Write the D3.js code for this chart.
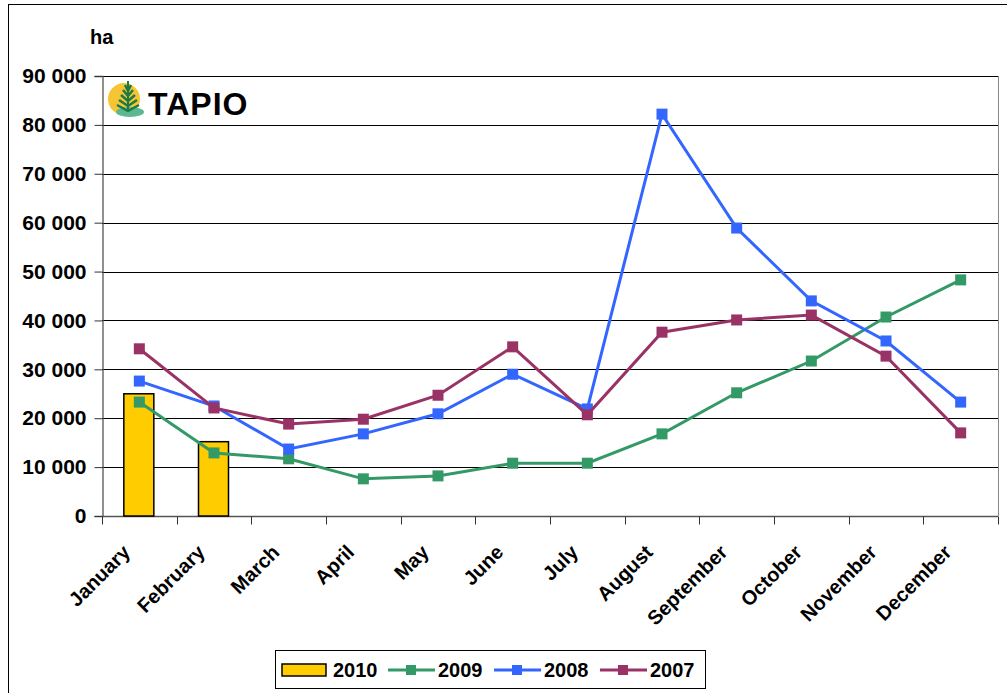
<!DOCTYPE html>
<html>
<head>
<meta charset="utf-8">
<script src="https://d3js.org/d3.v7.min.js"></script>
<style>
  body { margin: 0; background: #fff; }
  text { font-family: Arial, "Liberation Sans", sans-serif; }
</style>
</head>
<body>
<svg id="chart" width="1007" height="693"></svg>
<script>
// data (ha)
const months = ["January", "February", "March", "April", "May", "June", "July",
  "August", "September", "October", "November", "December"];
const values2010 = [25000, 15200];
const values2009 = [23300, 12900, 11700, 7600, 8200, 10800, 10800, 16800, 25200, 31700, 40700, 48300];
const values2008 = [27600, 22500, 13700, 16800, 20900, 29000, 21900, 82200, 58900, 44000, 35800, 23300];
const values2007 = [34200, 22100, 18800, 19800, 24700, 34600, 20700, 37600, 40100, 41100, 32700, 17000];
const yTicks = [0, 10000, 20000, 30000, 40000, 50000, 60000, 70000, 80000, 90000];

const lineSeries = [
  { name: "2009", values: values2009, color: "#339966" },
  { name: "2008", values: values2008, color: "#3366FF" },
  { name: "2007", values: values2007, color: "#993366" }
];

const svg = d3.select("#chart");
const plotLeft = 102, plotRight = 998, plotTop = 76, plotBottom = 516;

// outer frame
svg.append("rect")
  .attr("x", 8.5).attr("y", 4.5)
  .attr("width", 1010).attr("height", 700)
  .attr("fill", "none").attr("stroke", "#000");

const x = d3.scaleBand().domain(months).range([plotLeft, plotRight]);
const y = d3.scaleLinear().domain([0, 90000]).range([plotBottom, plotTop]);

const fmt = d => d3.format(",")(d).replace(/,/g, " ");

// grid lines
svg.append("g")
  .selectAll("line")
  .data(yTicks.slice(1))
  .join("line")
  .attr("x1", plotLeft).attr("x2", plotRight)
  .attr("y1", d => Math.round(y(d)) + 0.5)
  .attr("y2", d => Math.round(y(d)) + 0.5)
  .attr("stroke", "#000");

// right border of plot area
svg.append("line")
  .attr("x1", plotRight + 0.5).attr("x2", plotRight + 0.5)
  .attr("y1", plotTop).attr("y2", plotBottom)
  .attr("stroke", "#888");

// y axis
const yAxis = svg.append("g")
  .attr("transform", `translate(${plotLeft + 0.5},0)`)
  .call(d3.axisLeft(y).tickValues(yTicks).tickFormat(fmt).tickSize(8).tickPadding(8));
yAxis.select(".domain").attr("stroke", "#555").attr("stroke-width", 1.3);
yAxis.selectAll(".tick line").attr("stroke", "#333");
yAxis.selectAll("text")
  .attr("font-size", 21).attr("font-weight", "bold").attr("fill", "#000");

// x axis: ticks at category boundaries
const xAxisG = svg.append("g").attr("transform", `translate(0,${plotBottom + 0.5})`);
xAxisG.append("line")
  .attr("x1", plotLeft).attr("x2", plotRight)
  .attr("stroke", "#555").attr("stroke-width", 1.3);
xAxisG.selectAll(".tk")
  .data(months.concat(["end"]))
  .join("line")
  .attr("class", "tk")
  .attr("x1", (d, i) => Math.round(plotLeft + i * x.bandwidth()) + 0.5)
  .attr("x2", (d, i) => Math.round(plotLeft + i * x.bandwidth()) + 0.5)
  .attr("y1", 0).attr("y2", 8)
  .attr("stroke", "#333");
xAxisG.selectAll(".lbl")
  .data(months)
  .join("text")
  .attr("class", "lbl")
  .attr("text-anchor", "end")
  .attr("font-size", 20).attr("font-weight", "bold")
  .attr("transform", d => `translate(${x(d) + x.bandwidth() / 2 - 8},${37}) rotate(-45)`)
  .text(d => d);

// unit label
svg.append("text")
  .attr("x", 90).attr("y", 44)
  .attr("font-size", 20).attr("font-weight", "bold")
  .text("ha");

// 2010 bars
const barW = 30;
svg.append("g")
  .selectAll("rect")
  .data(values2010)
  .join("rect")
  .attr("x", (d, i) => x(months[i]) + x.bandwidth() / 2 - barW / 2 - 0.5)
  .attr("y", d => y(d))
  .attr("width", barW)
  .attr("height", d => plotBottom - y(d))
  .attr("fill", "#FFCC00")
  .attr("stroke", "#000").attr("stroke-width", 1.5);

// lines with square markers
const line = d3.line()
  .x((d, i) => x(months[i]) + x.bandwidth() / 2)
  .y(d => y(d));

lineSeries.forEach(s => {
  const g = svg.append("g");
  g.append("path")
    .attr("d", line(s.values))
    .attr("fill", "none")
    .attr("stroke", s.color)
    .attr("stroke-width", 3);
  g.selectAll("rect")
    .data(s.values)
    .join("rect")
    .attr("x", (d, i) => x(months[i]) + x.bandwidth() / 2 - 5.5)
    .attr("y", d => y(d) - 5.5)
    .attr("width", 11).attr("height", 11)
    .attr("fill", s.color);
});

// TAPIO logo
const logo = svg.append("g").attr("transform", "translate(124,99)");
logo.append("circle").attr("r", 16).attr("fill", "#F7C533");
logo.append("ellipse").attr("cx", 6).attr("cy", 13).attr("rx", 14).attr("ry", 5).attr("fill", "#5DB891");
logo.append("line").attr("x1", 4).attr("y1", -18).attr("x2", 4).attr("y2", 13)
  .attr("stroke", "#1B7A45").attr("stroke-width", 2);
const branches = [-12, -7, -2, 3, 8];
logo.selectAll(".br")
  .data(branches)
  .join("path")
  .attr("class", "br")
  .attr("d", (d, i) => {
    const w = 3 + i * 2;
    return `M4,${d + 4} L${4 - w},${d - 2} M4,${d + 4} L${4 + w},${d - 2}`;
  })
  .attr("stroke", "#1B7A45").attr("stroke-width", 2.5).attr("fill", "none");
svg.append("text")
  .attr("x", 148).attr("y", 115)
  .attr("font-size", 32).attr("font-weight", "bold")
  .attr("font-family", "'DejaVu Sans', sans-serif")
  .attr("letter-spacing", 1)
  .text("TAPIO");

// legend
const lg = svg.append("g").attr("transform", "translate(275,650)");
lg.append("rect")
  .attr("x", 0.5).attr("y", 0.5).attr("width", 430).attr("height", 38)
  .attr("fill", "#fff").attr("stroke", "#000");
lg.append("rect")
  .attr("x", 7).attr("y", 14).attr("width", 44).attr("height", 12)
  .attr("fill", "#FFCC00").attr("stroke", "#000").attr("stroke-width", 1.5);
lg.append("text")
  .attr("x", 58).attr("y", 27)
  .attr("font-size", 20).attr("font-weight", "bold").text("2010");
const lgX = [113, 219, 325];
lineSeries.forEach((s, i) => {
  const ox = lgX[i];
  lg.append("line")
    .attr("x1", ox).attr("x2", ox + 47).attr("y1", 20).attr("y2", 20)
    .attr("stroke", s.color).attr("stroke-width", 3);
  lg.append("rect")
    .attr("x", ox + 18).attr("y", 15).attr("width", 10).attr("height", 10)
    .attr("fill", s.color);
  lg.append("text")
    .attr("x", ox + 50).attr("y", 27)
    .attr("font-size", 20).attr("font-weight", "bold").text(s.name);
});
</script>
</body>
</html>
